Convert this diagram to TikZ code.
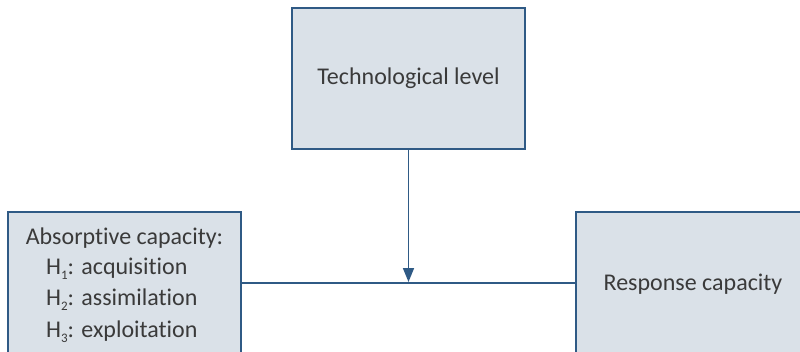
\documentclass[tikz,border=0pt]{standalone}
\usepackage{fontspec}
\setmainfont{Carlito}[Ligatures=NoCommon]
\usetikzlibrary{arrows.meta}
\definecolor{boxfill}{HTML}{DAE1E8}
\definecolor{boxline}{HTML}{2F5A85}
\definecolor{txt}{HTML}{3A3A3A}
\newcommand{\hsub}[1]{\raisebox{-5pt}{\fontsize{13}{13}\selectfont #1}}
\tikzset{
  box/.style={draw=boxline, fill=boxfill, line width=1.5pt, inner sep=0pt},
  lbl/.style={text=txt, font=\fontsize{24}{26}\selectfont, inner sep=0pt},
  conn/.style={draw=boxline, line width=1.7pt}
}
\begin{document}
\begin{tikzpicture}[x=1pt,y=1pt]
\useasboundingbox (0,0) rectangle (800,351);
\node[box, minimum width=233pt, minimum height=141pt] (tech) at (408.5,272.5) {};
\node[box, minimum width=233pt, minimum height=150pt] (abs) at (124.5,64) {};
\node[box, minimum width=232pt, minimum height=150pt] (resp) at (692,64) {};
\node[lbl] (techt) at (408.5,273) {Technological level};
\node[lbl] (respt) at (693,67) {Response capacity};
\node[lbl] (a0) at (124.5,113) {Absorptive capacity:};
\node[lbl, anchor=west] (a1) at (46,82) {H\hsub{1}: acquisition};
\node[lbl, anchor=west] (a2) at (46,51) {H\hsub{2}: assimilation};
\node[lbl, anchor=west] (a3) at (46,19) {H\hsub{3}: exploitation};
\draw[conn] (abs.east |- 0,68) coordinate (l) -- (resp.west |- 0,68) coordinate (r);
\coordinate (mid) at (408.5,69);
\draw[conn, -{Triangle[length=14pt,width=11pt]}] (tech.south) -- (mid);
\end{tikzpicture}
\end{document}
